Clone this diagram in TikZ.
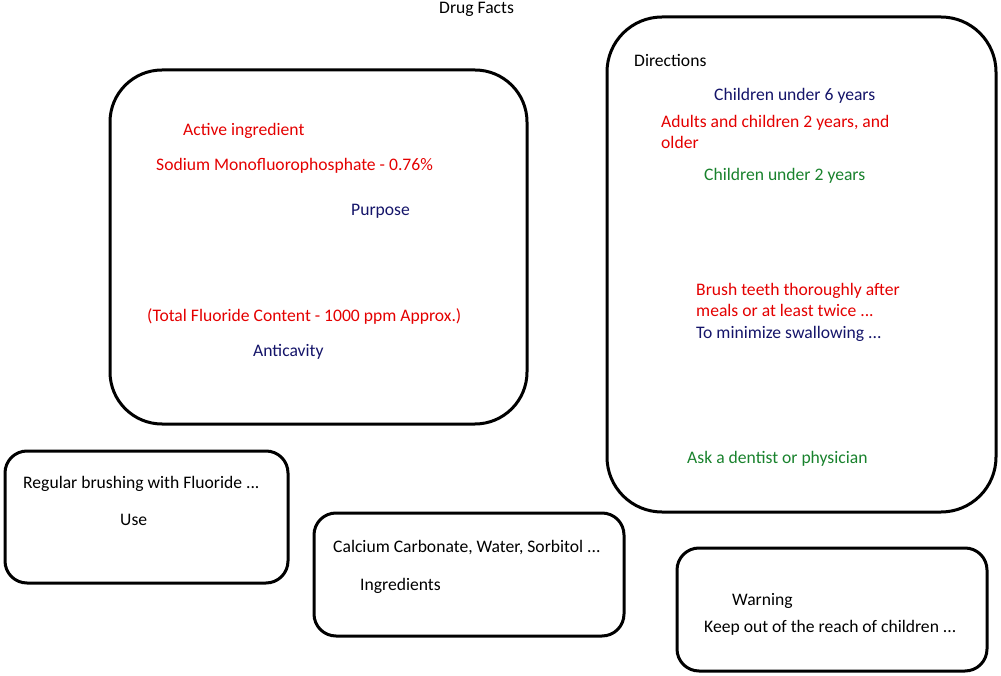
\documentclass[tikz,border=0pt]{standalone}
\usepackage{fontspec}
\setmainfont{Carlito}
\definecolor{tred}{RGB}{228,0,0}
\definecolor{tnavy}{RGB}{20,20,105}
\definecolor{tgreen}{RGB}{25,130,45}
\tikzset{
  panel/.style={draw=black, line width=3pt},
  txt/.style={anchor=west, inner sep=0pt, font=\fontsize{17.6}{21}\selectfont, align=left},
}
\begin{document}
\begin{tikzpicture}[x=1pt,y=-1pt]
\useasboundingbox (0,0) rectangle (1001,676);
% boxes
\draw[panel, rounded corners=52pt] (110,70) rectangle (527,424);
\draw[panel, rounded corners=55pt] (607,17) rectangle (996,512);
\draw[panel, rounded corners=22pt] (5,451) rectangle (288,583);
\draw[panel, rounded corners=22pt] (314,513) rectangle (624,636);
\draw[panel, rounded corners=22pt] (677,548) rectangle (987,671);
% texts
\node[txt] (title) at (439,9) {Drug Facts};
\node[txt, text=tred] (ai) at (183,131) {Active ingredient};
\node[txt, text=tred] (smf) at (156,166) {Sodium Monofluorophosphate - 0.76\%};
\node[txt, text=tnavy] (purp) at (351,211) {Purpose};
\node[txt, text=tred] (tfc) at (147,316) {(Total Fluoride Content - 1000 ppm Approx.)};
\node[txt, text=tnavy] (anti) at (253,352) {Anticavity};
\node[txt] (dir) at (634,60) {Directions};
\node[txt, text=tnavy] (c6) at (714,96) {Children under 6 years};
\node[txt, text=tred] (adults) at (661,132) {Adults and children 2 years, and\\older};
\node[txt, text=tgreen] (c2) at (704,176) {Children under 2 years};
\node[txt, text=tred] (brush) at (696,300) {Brush teeth thoroughly after\\meals or at least twice ...};
\node[txt, text=tnavy] (swal) at (696,334) {To minimize swallowing ...};
\node[txt, text=tgreen] (ask) at (687,459) {Ask a dentist or physician};
\node[txt] (reg) at (23,484) {Regular brushing with Fluoride ...};
\node[txt] (use) at (120,520) {Use};
\node[txt] (calc) at (333,548) {Calcium Carbonate, Water, Sorbitol ...};
\node[txt] (ingr) at (360,586) {Ingredients};
\node[txt] (warn) at (732,601) {Warning};
\node[txt] (keep) at (704,628) {Keep out of the reach of children ...};
\end{tikzpicture}
\end{document}
